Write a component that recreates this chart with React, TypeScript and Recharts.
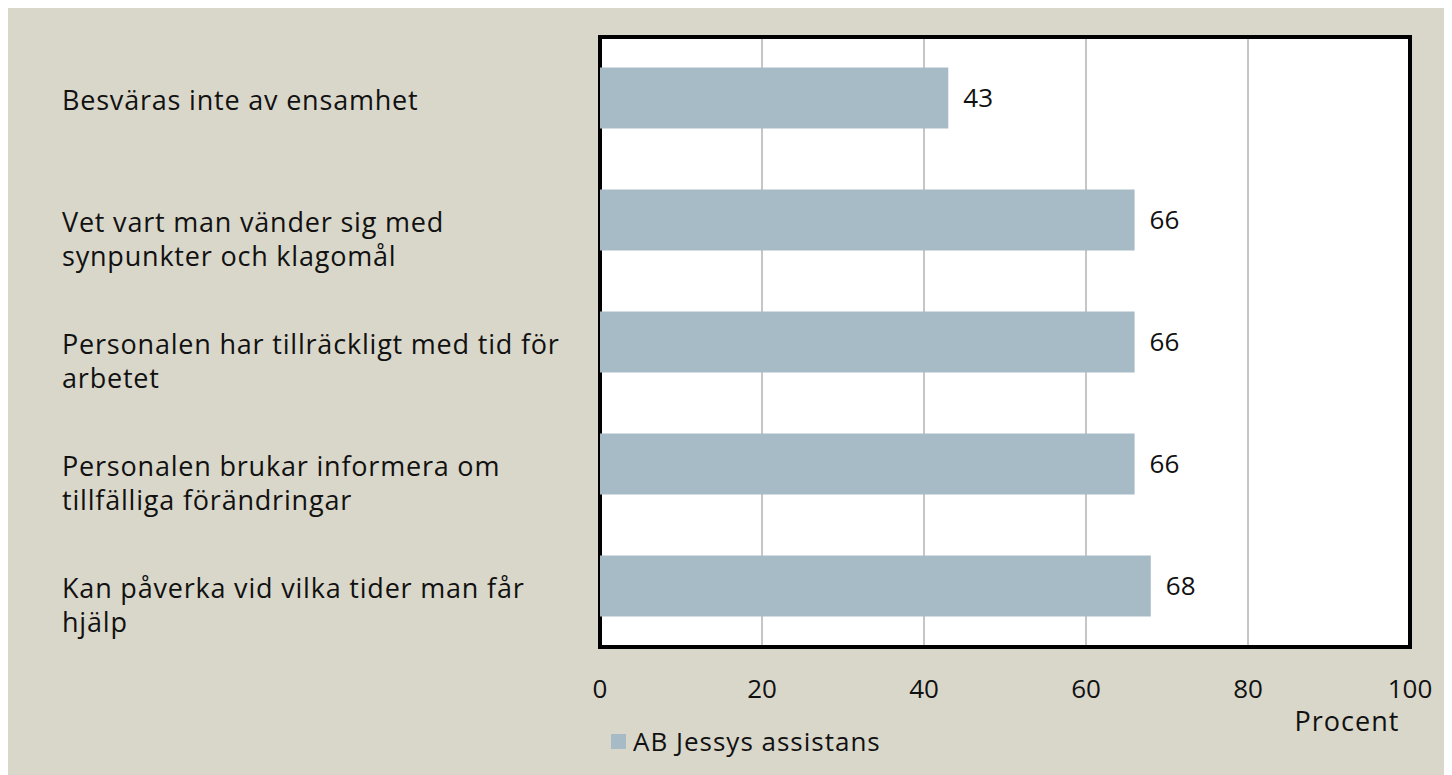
import {
  BarChart,
  Bar,
  XAxis,
  YAxis,
  CartesianGrid,
  Legend,
  LabelList,
  ReferenceArea,
} from 'recharts';

const categories = [
  'Besväras inte av ensamhet',
  'Vet vart man vänder sig med\nsynpunkter och klagomål',
  'Personalen har tillräckligt med tid för\narbetet',
  'Personalen brukar informera om\ntillfälliga förändringar',
  'Kan påverka vid vilka tider man får\nhjälp',
];
const values = [43, 66, 66, 66, 68];
const xTicks = [0, 20, 40, 60, 80, 100];
const seriesName = 'AB Jessys assistans';
const axisTitle = 'Procent';

const data = categories.map((category, i) => ({ category, value: values[i] }));

const FONT = '"Open Sans", sans-serif';
const BG = '#d9d7ca';
const BAR = '#a7bbc6';
const INK = '#111';

const CategoryTick = ({ y, payload }: any) => {
  const lines = String(payload.value).split('\n');
  return (
    <text x={54} y={y + 3} fontSize={27} letterSpacing={0.8} fontFamily={FONT} fill={INK} textAnchor="start">
      {lines.map((line, i) => (
        <tspan key={i} x={54} dy={i === 0 ? '0.35em' : 34}>
          {line}
        </tspan>
      ))}
    </text>
  );
};

const AxisTitle = ({ viewBox }: any) => {
  if (!viewBox) return null;
  return (
    <text
      x={viewBox.x + viewBox.width - 63}
      y={viewBox.y + 75}
      dy="0.35em"
      textAnchor="middle"
      fontSize={27}
      letterSpacing={1}
      fontFamily={FONT}
      fill={INK}
    >
      {axisTitle}
    </text>
  );
};

const LegendContent = () => (
  <div
    style={{
      display: 'flex',
      alignItems: 'center',
      fontFamily: FONT,
      fontSize: 26,
      letterSpacing: 1,
      color: INK,
      whiteSpace: 'nowrap',
    }}
  >
    <span style={{ width: 15, height: 15, background: BAR, marginRight: 7, display: 'inline-block' }} />
    {seriesName}
  </div>
);

export default function App() {
  return (
    <div style={{ width: 1444, height: 767, background: BG }}>
      <BarChart
        width={1444}
        height={767}
        data={data}
        layout="vertical"
        margin={{ top: 29, right: 42, bottom: 68, left: 0 }}
        barCategoryGap="25%"
      >
        <CartesianGrid horizontal={false} stroke="#8c8c8c" fill="#ffffff" />
        <XAxis
          type="number"
          domain={[0, 100]}
          ticks={xTicks}
          height={60}
          axisLine={false}
          tickLine={false}
          tickSize={0}
          tickMargin={33}
          tick={{ fontSize: 26, fontFamily: FONT, fill: INK }}
          label={<AxisTitle />}
        />
        <YAxis
          type="category"
          dataKey="category"
          width={592}
          axisLine={false}
          tickLine={false}
          tick={<CategoryTick />}
          interval={0}
        />
        <Legend
          layout="vertical"
          align="center"
          verticalAlign="middle"
          content={<LegendContent />}
          wrapperStyle={{ left: 603, top: 715, width: 'auto' }}
        />
        <Bar dataKey="value" name={seriesName} fill={BAR} isAnimationActive={false}>
          <LabelList
            dataKey="value"
            position="right"
            offset={15}
            style={{ fontSize: 26, fontFamily: FONT, fill: INK }}
          />
        </Bar>
        <ReferenceArea
          x1={0}
          x2={100}
          fill="none"
          stroke="#000"
          strokeWidth={4}
          ifOverflow="visible"
        />
      </BarChart>
    </div>
  );
}
